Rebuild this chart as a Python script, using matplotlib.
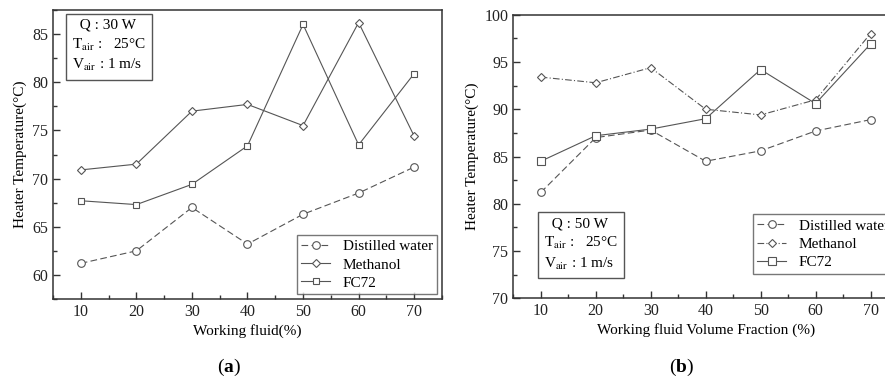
import matplotlib
matplotlib.use("Agg")
import matplotlib.pyplot as plt
from matplotlib.ticker import MultipleLocator

plt.rcParams['font.family'] = ['Liberation Serif', 'DejaVu Serif']
plt.rcParams['mathtext.fontset'] = 'stix'

x = [10, 20, 30, 40, 50, 60, 70]

a_water = [61.2, 62.5, 67.0, 63.2, 66.3, 68.5, 71.2]
a_methanol = [70.9, 71.5, 77.0, 77.7, 75.5, 86.2, 74.4]
a_fc72 = [67.7, 67.3, 69.4, 73.4, 86.0, 73.5, 80.9]

b_water = [81.2, 87.0, 87.8, 84.5, 85.6, 87.7, 88.9]
b_methanol = [93.4, 92.8, 94.4, 90.0, 89.4, 91.0, 98.0]
b_fc72 = [84.5, 87.2, 87.9, 89.0, 94.2, 90.6, 96.9]

labels = ["Distilled water", "Methanol", "FC72"]

fig = plt.figure(figsize=(8.85, 3.83), dpi=100)
ax1 = fig.add_axes([0.0599, 0.2193, 0.4395, 0.7546])
ax2 = fig.add_axes([0.580, 0.2211, 0.4347, 0.7405])

lc = '#555555'
fs = 11

def style(ax):
    for s in ax.spines.values():
        s.set_color('#333333')
        s.set_linewidth(1.1)
    ax.xaxis.set_major_locator(MultipleLocator(10))
    ax.xaxis.set_minor_locator(MultipleLocator(5))
    ax.yaxis.set_major_locator(MultipleLocator(5))
    ax.yaxis.set_minor_locator(MultipleLocator(2.5))
    ax.tick_params(which='both', direction='in', colors='#333333', labelsize=11.5, labelcolor='#222222')
    ax.tick_params(which='major', length=5, width=1)
    ax.tick_params(which='minor', length=3, width=1)
    ax.tick_params(top=False, right=False)

leg_kw = dict(fontsize=fs, frameon=True, fancybox=False, edgecolor='#555555',
              handlelength=1.9, handletextpad=0.8, borderpad=0.3, labelspacing=0.3)

# (a)
ax1.plot(x, a_water, color=lc, lw=0.8, ls=(0, (6, 3)), marker='o', ms=5.5, mfc='white', mec=lc, mew=0.8, label=labels[0])
ax1.plot(x, a_methanol, color=lc, lw=0.8, ls='-', marker='D', ms=3.8, mfc='white', mec=lc, mew=0.8, label=labels[1])
ax1.plot(x, a_fc72, color=lc, lw=0.8, ls='-', marker='s', ms=5, mfc='white', mec=lc, mew=0.8, label=labels[2])
ax1.set_xlim(5, 75)
ax1.set_ylim(57.5, 87.5)
style(ax1)
ax1.set_xlabel("Working fluid(%)", fontsize=fs, labelpad=3)
ax1.set_ylabel("Heater Temperature(°C)", fontsize=fs, labelpad=4)
leg1 = ax1.legend(loc='lower right', borderaxespad=0.3, **leg_kw)
leg1.get_frame().set_linewidth(1.0)
ax1.text(0.05, 0.97, "  Q : 30 W\nT$_{\\mathrm{air}}$ :   25°C\nV$_{\\mathrm{air}}$ : 1 m/s", transform=ax1.transAxes,
         fontsize=fs, va='top', ha='left', linespacing=1.4,
         bbox=dict(boxstyle='square,pad=0.4', fc='white', ec='#555555', lw=1.0))

# (b)
ax2.plot(x, b_water, color=lc, lw=0.8, ls=(0, (6, 3)), marker='o', ms=5.5, mfc='white', mec=lc, mew=0.8, label=labels[0])
ax2.plot(x, b_methanol, color=lc, lw=0.8, ls=(0, (6, 2, 1, 2)), marker='D', ms=3.8, mfc='white', mec=lc, mew=0.8, label=labels[1])
ax2.plot(x, b_fc72, color=lc, lw=0.8, ls='-', marker='s', ms=6, mfc='white', mec=lc, mew=0.8, label=labels[2])
ax2.set_xlim(5, 75)
ax2.set_ylim(70, 100)
style(ax2)
ax2.set_xlabel("Working fluid Volume Fraction (%)", fontsize=fs, labelpad=3)
ax2.set_ylabel("Heater Temperature(°C)", fontsize=fs, labelpad=4)
leg2 = ax2.legend(loc='lower right', bbox_to_anchor=(1.0, 0.07), borderaxespad=0.3, **leg_kw)
leg2.get_frame().set_linewidth(1.0)
ax2.text(0.08, 0.285, "  Q : 50 W\nT$_{\\mathrm{air}}$ :   25°C\nV$_{\\mathrm{air}}$ : 1 m/s", transform=ax2.transAxes,
         fontsize=fs, va='top', ha='left', linespacing=1.4,
         bbox=dict(boxstyle='square,pad=0.4', fc='white', ec='#555555', lw=1.0))

def panel_label(xc, letter):
    y = 1 - 372 / 383
    t1 = fig.text(xc - 11 / 885, y, "(", fontsize=14, ha='left', va='center')
    t2 = fig.text(0, 0, letter, fontsize=14, fontweight='bold', ha='left', va='baseline')
    t3 = fig.text(0, 0, ")", fontsize=14, ha='left', va='baseline')
    fig.canvas.draw()
    r = fig.canvas.get_renderer()
    inv = fig.transFigure.inverted()
    bb1 = t1.get_window_extent(r)
    # baseline of "(" : use same y as text anchor converted
    t1.set_va('baseline')
    fig.canvas.draw()
    bb1 = t1.get_window_extent(r)
    x1 = inv.transform((bb1.x1, 0))[0]
    yb = t1.get_position()[1]
    t2.set_position((x1, yb))
    fig.canvas.draw()
    bb2 = t2.get_window_extent(r)
    x2 = inv.transform((bb2.x1, 0))[0]
    t3.set_position((x2, yb))

panel_label(228 / 885, "a")
panel_label(680 / 885, "b")

fig.savefig("out.png", dpi=100)
